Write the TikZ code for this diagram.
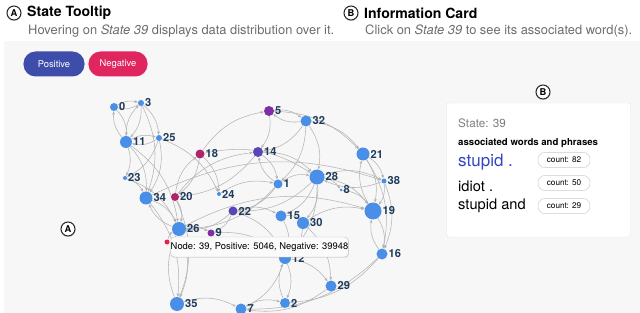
\documentclass[tikz,border=0pt]{standalone}
\usepackage{fontspec}
\setmainfont{TeX Gyre Heros}
\usetikzlibrary{arrows.meta,shadows,positioning,backgrounds}
\definecolor{stblue}{HTML}{4A8FE7}
\definecolor{stmag}{HTML}{B0246E}
\definecolor{stpurp}{HTML}{7E2FA6}
\definecolor{stind}{HTML}{5A45B8}
\definecolor{stred}{HTML}{E8204E}
\definecolor{lblcol}{HTML}{1F3B5A}
\definecolor{posbtn}{HTML}{3F4DAA}
\definecolor{negbtn}{HTML}{E0265E}
\definecolor{panelbg}{HTML}{F7F7F7}
\definecolor{wordblue}{HTML}{3446C0}
\tikzset{
  circletter/.style={circle,draw=black!85,line width=0.9pt,fill=white,inner sep=0pt,minimum size=0.42cm,font=\bfseries\footnotesize,circular drop shadow={shadow xshift=0pt,shadow yshift=-0.5pt,opacity=0.25}},
  pill/.style={rounded corners=0.36cm,minimum height=0.75cm,text=white,font=\footnotesize,inner sep=0pt},
  stnode/.style={circle,inner sep=0pt},
  stlab/.style={font=\fontsize{9.5}{11}\bfseries,text=lblcol,inner sep=0.6pt},
  edge/.style={draw=gray!60,line width=0.45pt,-{Stealth[length=3pt,width=2.4pt]}},
  cntpill/.style={draw=gray!40,fill=white,rounded corners=0.22cm,minimum width=1.56cm,minimum height=0.46cm,font=\fontsize{7}{8}\selectfont,inner sep=0pt}
}
\begin{document}
\begin{tikzpicture}[x=0.03cm,y=-0.03cm]
\useasboundingbox (0,0) rectangle (640,313);
% headers
\node[circletter] (ca) at (14,13) {A};
\node[anchor=west,font=\bfseries\large,inner sep=0pt] (ta) at (27,13) {State Tooltip};
\node[anchor=west,text=gray!85!black,font=\fontsize{11}{13}\selectfont,inner sep=0pt] (sa) at (28,31) {Hovering on \textit{State 39} displays data distribution over it.};
\node[circletter] (cb) at (351,13) {B};
\node[anchor=west,font=\bfseries\large,inner sep=0pt] (tb) at (364,13) {Information Card};
\node[anchor=west,text=gray!85!black,font=\fontsize{11}{13}\selectfont,inner sep=0pt] (sb) at (365,31) {Click on \textit{State 39} to see its associated word(s).};
% legend
\node[pill,fill=posbtn,minimum width=1.83cm] (pos) at (54,64) {Positive};
\node[pill,fill=negbtn,minimum width=1.77cm] (neg) at (118,64) {Negative};
% states
\foreach \n/\x/\y/\d/\c in {0/114/107/8/stblue,3/141/103/6/stblue,11/126/142/12/stblue,25/159/138/6/stblue,23/125/178/4/stblue,34/146/198/13/stblue,20/175/197/8/stmag,18/200/154/9/stmag,5/269/111/10/stpurp,14/258/152/10/stind,32/306/121/11/stblue,21/363/154/13/stblue,28/317/177/15/stblue,1/278/184/9/stblue,24/219/194/4/stblue,38/384/181/5/stblue,8/341/190/3/stblue,22/233/211/9/stind,15/281/216/11/stblue,30/303/223/12/stblue,19/373/211/17/stblue,26/179/229/14/stblue,9/211/233/7/stpurp,16/382/254/11/stblue,12/285/258/12/stblue,29/331/286/11/stblue,2/285/303/10/stblue,7/241/309/11/stblue,35/177/304/14/stblue} {\node[stnode,fill=\c,minimum size=\d*0.03cm,label={[stlab]right:\n}] (s\n) at (\x,\y) {};}
\node[stnode,fill=stred,minimum size=0.15cm] (s39) at (167,242) {};
% transitions
\begin{scope}[on background layer]
\fill[panelbg] (4,41) rectangle (640,313);
\foreach \a/\b in {0/3,3/0,0/11,11/0,3/11,11/3,3/25,3/34,11/25,25/11,11/23,11/34,11/26,25/34,25/24,25/23,23/34,23/26,34/26,26/34,34/35,34/38,20/18,18/20,20/14,18/5,20/26,20/35,18/24,18/28,5/32,32/5,5/14,5/21,14/1,1/14,14/28,14/20,32/1,32/28,32/21,32/14,21/38,21/19,19/21,21/16,28/38,38/28,28/19,28/8,28/15,28/22,28/12,28/30,1/22,1/26,1/28,24/1,38/19,38/16,8/19,22/26,22/15,22/12,22/9,15/30,15/12,30/19,30/29,30/12,19/16,16/19,16/2,16/7,26/35,35/26,26/9,26/19,12/2,2/12,12/29,12/7,35/7,7/2,29/7,9/12,39/26} {\draw[edge] (s\a) to[bend left=22] (s\b);}
\end{scope}
% tooltip
\node[draw=gray!45,fill=gray!3,rounded corners=3pt,minimum width=5.25cm,minimum height=0.6cm,inner sep=0pt,font=\fontsize{8}{9}\selectfont,drop shadow={shadow xshift=0.5pt,shadow yshift=-0.8pt,opacity=0.2}] (tip) at (259.5,247) {Node: 39, Positive: 5046, Negative: 39948};
\node[circletter] (cA) at (68,229) {A};
% information card
\node[circletter] (cB) at (543,92) {B};
\node[draw=gray!20,fill=white,rounded corners=2pt,minimum width=5.52cm,minimum height=4.02cm] (card) at (538.5,170) {};
\node[anchor=west,text=gray,font=\fontsize{10}{12}\selectfont,inner sep=0pt] (cst) at (458,123) {State: 39};
\node[anchor=west,font=\fontsize{8.2}{10}\bfseries,inner sep=0pt] (cas) at (458,143) {associated words and phrases};
\node[anchor=west,text=wordblue,font=\fontsize{14.5}{16}\selectfont,inner sep=0pt] (w1) at (458,162) {stupid .};
\node[anchor=west,font=\fontsize{12.5}{14}\selectfont,inner sep=0pt] (w2) at (458,186) {idiot .};
\node[anchor=west,font=\fontsize{12.5}{14}\selectfont,inner sep=0pt] (w3) at (458,206) {stupid and};
\node[cntpill] (c1) at (564,160) {count: 82};
\node[cntpill] (c2) at (564,183) {count: 50};
\node[cntpill] (c3) at (564,206) {count: 29};
\end{tikzpicture}
\end{document}
